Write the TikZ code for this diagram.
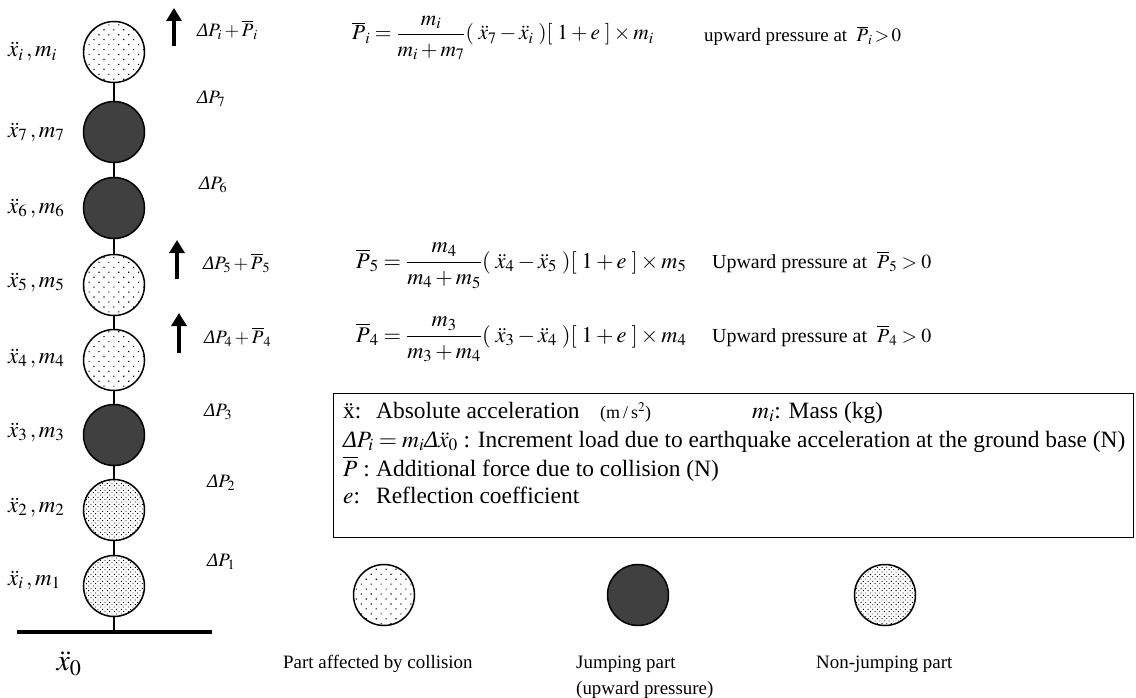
\documentclass[tikz,border=0pt]{standalone}
\usepackage{amsmath}
\usepackage{mathptmx}
\usepackage{fontspec}
\setmainfont{Liberation Serif}
\usetikzlibrary{positioning, arrows.meta, patterns.meta}

\newcommand{\DP}{\mbox{\itshape Δ}P}
\newcommand{\xdd}{\ddot{x}}
\newcommand{\upnum}{\rule[-5bp]{0pt}{5bp}}
\newcommand{\upden}{\rule{0pt}{19bp}}

\begin{document}
\begin{tikzpicture}[x=1bp, y=-1bp, >=latex,
  every node/.style={inner sep=0pt, font=\fontsize{19}{22}\selectfont},
  mass/.style={circle, draw, line width=1.5bp, minimum size=61bp},
  hit/.style={mass, pattern={Dots[distance=7bp, angle=45, radius=0.8bp]}},
  jump/.style={mass, fill=black!75},
  still/.style={mass, pattern={Dots[distance=3.3bp, angle=45, radius=0.65bp]}},
  link/.style={line width=1.5bp},
  push/.style={line width=4.5bp, -{Triangle[width=15bp, length=13bp]}},
  side/.style={anchor=west, font=\fontsize{23}{26}\selectfont},
  key/.style={font=\fontsize{23.5}{27}\selectfont, anchor=base west},
  form/.style={font=\fontsize{22.5}{26}\selectfont, anchor=base west},
  ]
  \useasboundingbox (0,0) rectangle (1136,698);

  % masses
  \node[hit]   (mi) at (114,52)  {};
  \node[jump]  (m7) at (114,132) {};
  \node[jump]  (m6) at (114,208) {};
  \node[hit]   (m5) at (114,285) {};
  \node[hit]   (m4) at (114,360) {};
  \node[jump]  (m3) at (114,435) {};
  \node[still] (m2) at (114,510) {};
  \node[still] (m1) at (114,586) {};

  \foreach \a/\b in {mi/m7, m7/m6, m6/m5, m5/m4, m4/m3, m3/m2, m2/m1}
    \draw[link] (\a) -- (\b);

  % ground
  \coordinate (gl) at (17,632);
  \coordinate (gr) at (212,632);
  \draw[line width=3.5bp] (gl) -- (gr);
  \draw[link] (m1) -- (m1 |- gl);
  \node[font=\fontsize{30}{30}\selectfont] (x0) at (69,664) {$\xdd_0$};

  % accelerations and masses
  \node[side] (li) at (8,52)  {$\xdd_i\,, m_i$};
  \node[side] (l7) at (8,132) {$\xdd_7\,, m_7$};
  \node[side] (l6) at (8,208) {$\xdd_6\,, m_6$};
  \node[side] (l5) at (8,282) {$\xdd_5\,, m_5$};
  \node[side] (l4) at (8,358) {$\xdd_4\,, m_4$};
  \node[side] (l3) at (8,432) {$\xdd_3\,, m_3$};
  \node[side] (l2) at (8,507) {$\xdd_2\,, m_2$};
  \node[side] (l1) at (8,580) {$\xdd_i\,, m_1$};

  % loads
  \node[anchor=west] (pi) at (197,30)  {$\DP_i + \overline{P}_i$};
  \node[anchor=west] (p7) at (197,99)  {$\DP_7$};
  \node[anchor=west] (p6) at (199,185) {$\DP_6$};
  \node[anchor=west] (p5) at (203,263) {$\DP_5 + \overline{P}_5$};
  \node[anchor=west] (p4) at (204,337) {$\DP_4 + \overline{P}_4$};
  \node[anchor=west] (p3) at (204,412) {$\DP_3$};
  \node[anchor=west] (p2) at (207,483) {$\DP_2$};
  \node[anchor=west] (p1) at (207,562) {$\DP_1$};

  \coordinate (ai) at (174,46);
  \coordinate (a5) at (177,279);
  \coordinate (a4) at (179,353);
  \draw[push] (ai) -- ++(0,-38);
  \draw[push] (a5) -- ++(0,-39);
  \draw[push] (a4) -- ++(0,-40);

  % collision forces
  \node[form, font=\fontsize{21.5}{25}\selectfont] (fi) at (352,40)
    {$\overline{P}_i = \dfrac{m_i\upnum}{\upden m_i + m_7}(\;\xdd_7 - \xdd_i\;)[\;1 + e\;] \times m_i$};
  \node[form, font=\fontsize{19}{22}\selectfont] (ui) at (704,42)
    {upward pressure at\enspace $\overline{P}_i\!>\!0$};
  \node[form] (f5) at (356,268)
    {$\overline{P}_5 = \dfrac{m_4\upnum}{\upden m_4 + m_5}(\;\xdd_4 - \xdd_5\;)[\;1 + e\;] \times m_5$};
  \node[form, font=\fontsize{20}{24}\selectfont] (u5) at (712,268)
    {Upward pressure at\enspace $\overline{P}_5 > 0$};
  \node[form] (f4) at (356,342)
    {$\overline{P}_4 = \dfrac{m_3\upnum}{\upden m_3 + m_4}(\;\xdd_3 - \xdd_4\;)[\;1 + e\;] \times m_4$};
  \node[form, font=\fontsize{20}{24}\selectfont] (u4) at (712,342)
    {Upward pressure at\enspace $\overline{P}_4 > 0$};

  % notation
  \node[draw, line width=1.3bp, anchor=north west, minimum width=800bp,
        minimum height=144bp] (box) at (333,393) {};
  \node[key] (k1) at (343,418) {\"x:};
  \node[key] at (376,418) {Absolute acceleration};
  \node[key, font=\fontsize{18}{21}\selectfont] at (600,418) {(m\,/\,s$^2$)};
  \node[key] at (752,418) {$m_i$: Mass (kg)};
  \node[key] (k2) at (343,447)
    {$\DP_i = m_i\mbox{\itshape Δ}\xdd_0$ : Increment load due to earthquake acceleration at the ground base (N)};
  \node[key] (k3) at (343,476) {$\overline{P}$ :};
  \node[key] at (376,476) {Additional force due to collision (N)};
  \node[key] (k4) at (343,503) {$e$:};
  \node[key] at (376,503) {Reflection coefficient};

  % legend
  \node[hit]   (g1) at (384,595) {};
  \node[jump]  (g2) at (638,595) {};
  \node[still] (g3) at (885,595) {};
  \node[anchor=base west] (t1) at (283,668) {Part affected by collision};
  \node[anchor=base west] (t2) at (576,668) {Jumping part};
  \node[anchor=base west] (t3) at (576,694) {(upward pressure)};
  \node[anchor=base west] (t4) at (816,668) {Non-jumping part};
\end{tikzpicture}
\end{document}
